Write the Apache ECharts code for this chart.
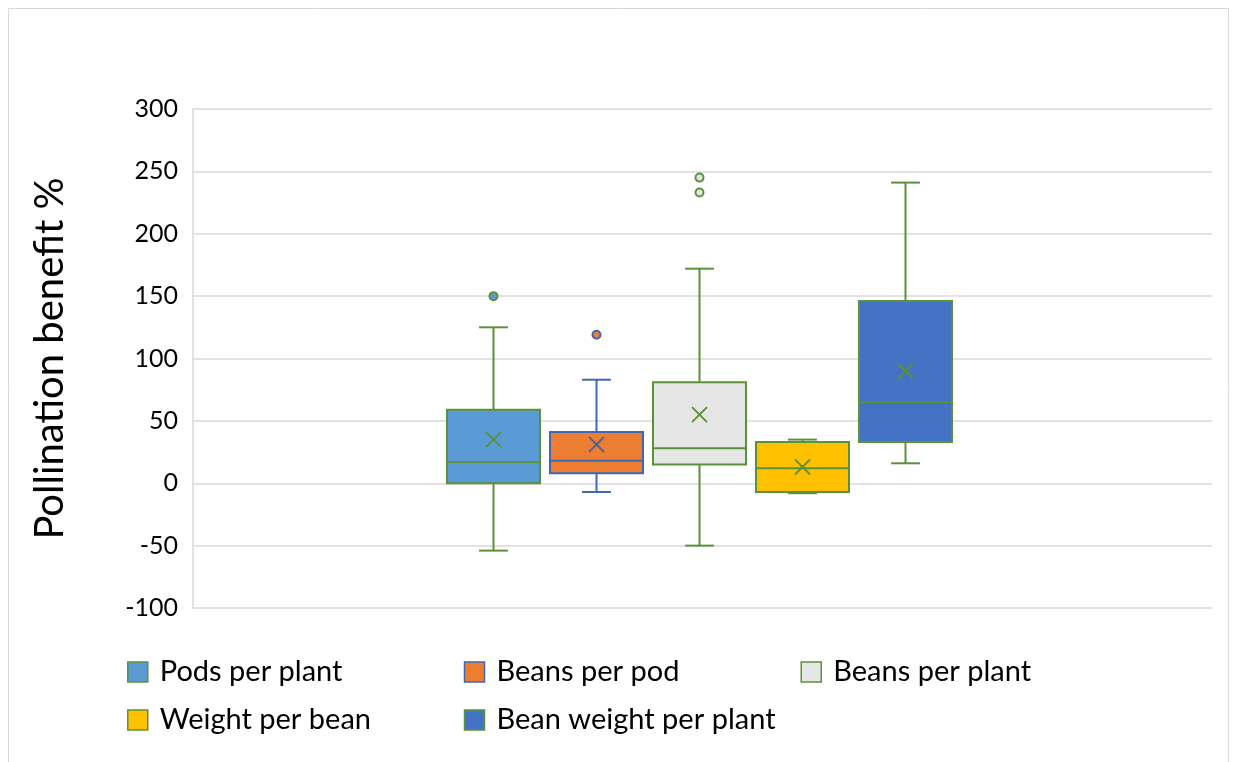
<!DOCTYPE html>
<html>
<head>
<meta charset="utf-8">
<script src="https://cdn.jsdelivr.net/npm/echarts@6/dist/echarts.min.js"></script>
<style>
html,body{margin:0;padding:0;background:#fff;}
#chart{width:1235px;height:762px;}
</style>
</head>
<body>
<div id="chart"></div>
<script>
// ---- data ----
const categories = [''];
const seriesNames = ['Pods per plant', 'Beans per pod', 'Beans per plant', 'Weight per bean', 'Bean weight per plant'];
const whiskerLow  = [-54, -7, -50, -8, 16];
const q1          = [0, 8, 15, -7, 33];
const median      = [17, 18, 28, 12, 65];
const q3          = [59, 41, 81, 33, 146];
const whiskerHigh = [125, 83, 172, 35, 241];
const means       = [35, 31, 55, 13, 90];
const outliers    = [[150], [119], [245, 233], [], []];
const yTicks      = [-100, -50, 0, 50, 100, 150, 200, 250, 300];

// ---- styles ----
const fills   = ['#5B9BD5', '#ED7D31', '#E7E6E6', '#FFC000', '#4472C4'];
const green = '#5B9239';
const borders = [green, '#3F68B3', green, green, green];
const FONT = 'Lato, "Open Sans", sans-serif';

const STEP = 103 / 1019;   // distance between box centres, as share of the category band
const BOXW = 93 / 1019;    // box width, share of band
const SHIFT = -3 / 1019;

function renderItem(params, api) {
  const i = params.seriesIndex;
  const cat = api.value(0);
  const band = api.size([1, 0])[0];
  const cx = api.coord([cat, 0])[0] + ((i - 2) * STEP + SHIFT) * band;
  const half = band * BOXW / 2;
  const cap = half * 0.31;
  const y = v => api.coord([cat, v])[1];
  const lo = y(api.value(1)), b = y(api.value(2)), md = y(api.value(3)),
        t = y(api.value(4)), hi = y(api.value(5)), mn = y(api.value(6));
  const stroke = borders[i], fill = fills[i];
  const ls = { stroke: stroke, lineWidth: 2, fill: null };
  const children = [
    { type: 'line', shape: { x1: cx, y1: t, x2: cx, y2: hi }, style: ls },
    { type: 'line', shape: { x1: cx - cap, y1: hi, x2: cx + cap, y2: hi }, style: ls },
    { type: 'line', shape: { x1: cx, y1: b, x2: cx, y2: lo }, style: ls },
    { type: 'line', shape: { x1: cx - cap, y1: lo, x2: cx + cap, y2: lo }, style: ls },
    { type: 'rect', shape: { x: cx - half, y: t, width: half * 2, height: b - t },
      style: { fill: fill, stroke: stroke, lineWidth: 2 } },
    { type: 'line', shape: { x1: cx - half, y1: md, x2: cx + half, y2: md }, style: ls },
    { type: 'line', shape: { x1: cx - 7.5, y1: mn - 7.5, x2: cx + 7.5, y2: mn + 7.5 }, style: ls },
    { type: 'line', shape: { x1: cx - 7.5, y1: mn + 7.5, x2: cx + 7.5, y2: mn - 7.5 }, style: ls }
  ];
  outliers[i].forEach(function (v) {
    children.push({ type: 'circle', shape: { cx: cx, cy: y(v), r: 4 },
      style: { fill: fill, stroke: stroke, lineWidth: 2 } });
  });
  return { type: 'group', children: children };
}

const series = seriesNames.map(function (name, i) {
  return {
    name: name,
    type: 'custom',
    renderItem: renderItem,
    clip: false,
    itemStyle: { color: fills[i], borderColor: borders[i], borderWidth: 2 },
    encode: { x: 0, y: [1, 2, 3, 4, 5, 6] },
    data: [[0, whiskerLow[i], q1[i], median[i], q3[i], whiskerHigh[i], means[i]]]
  };
});

const chart = echarts.init(document.getElementById('chart'), null, { renderer: 'canvas' });
chart.setOption({
  animation: false,
  backgroundColor: '#fff',
  graphic: [{
    type: 'rect', z: -10, silent: true,
    shape: { x: 8.5, y: 8.5, width: 1220, height: 800 },
    style: { fill: '#fff', stroke: '#D9D9D9', lineWidth: 1 }
  }],
  grid: { left: 193, right: 23, top: 109, bottom: 154 },
  xAxis: {
    type: 'category',
    data: categories,
    axisLine: { show: false },
    axisTick: { show: false },
    axisLabel: { show: false },
    splitLine: { show: false }
  },
  yAxis: {
    type: 'value',
    min: yTicks[0],
    max: yTicks[yTicks.length - 1],
    interval: 50,
    name: 'Pollination benefit %',
    nameLocation: 'middle',
    nameGap: 123,
    nameTextStyle: { fontFamily: FONT, fontSize: 40, color: '#000' },
    axisLine: { show: true, lineStyle: { color: '#D9D9D9', width: 1.5 } },
    axisTick: { show: false },
    axisLabel: { margin: 15, fontFamily: FONT, fontSize: 25, color: '#000' },
    splitLine: { show: true, lineStyle: { color: '#D9D9D9', width: 1.5 } }
  },
  legend: {
    data: seriesNames,
    left: 127,
    top: 653,
    padding: 0,
    width: 1040,
    itemGap: 10,
    itemWidth: 20,
    itemHeight: 20,
    icon: 'rect',
    itemStyle: { borderWidth: 1.5 },
    textStyle: { fontFamily: FONT, fontSize: 29, color: '#000', width: 294, lineHeight: 38, padding: [0, 0, 0, 7] }
  },
  series: series
});
</script>
</body>
</html>
